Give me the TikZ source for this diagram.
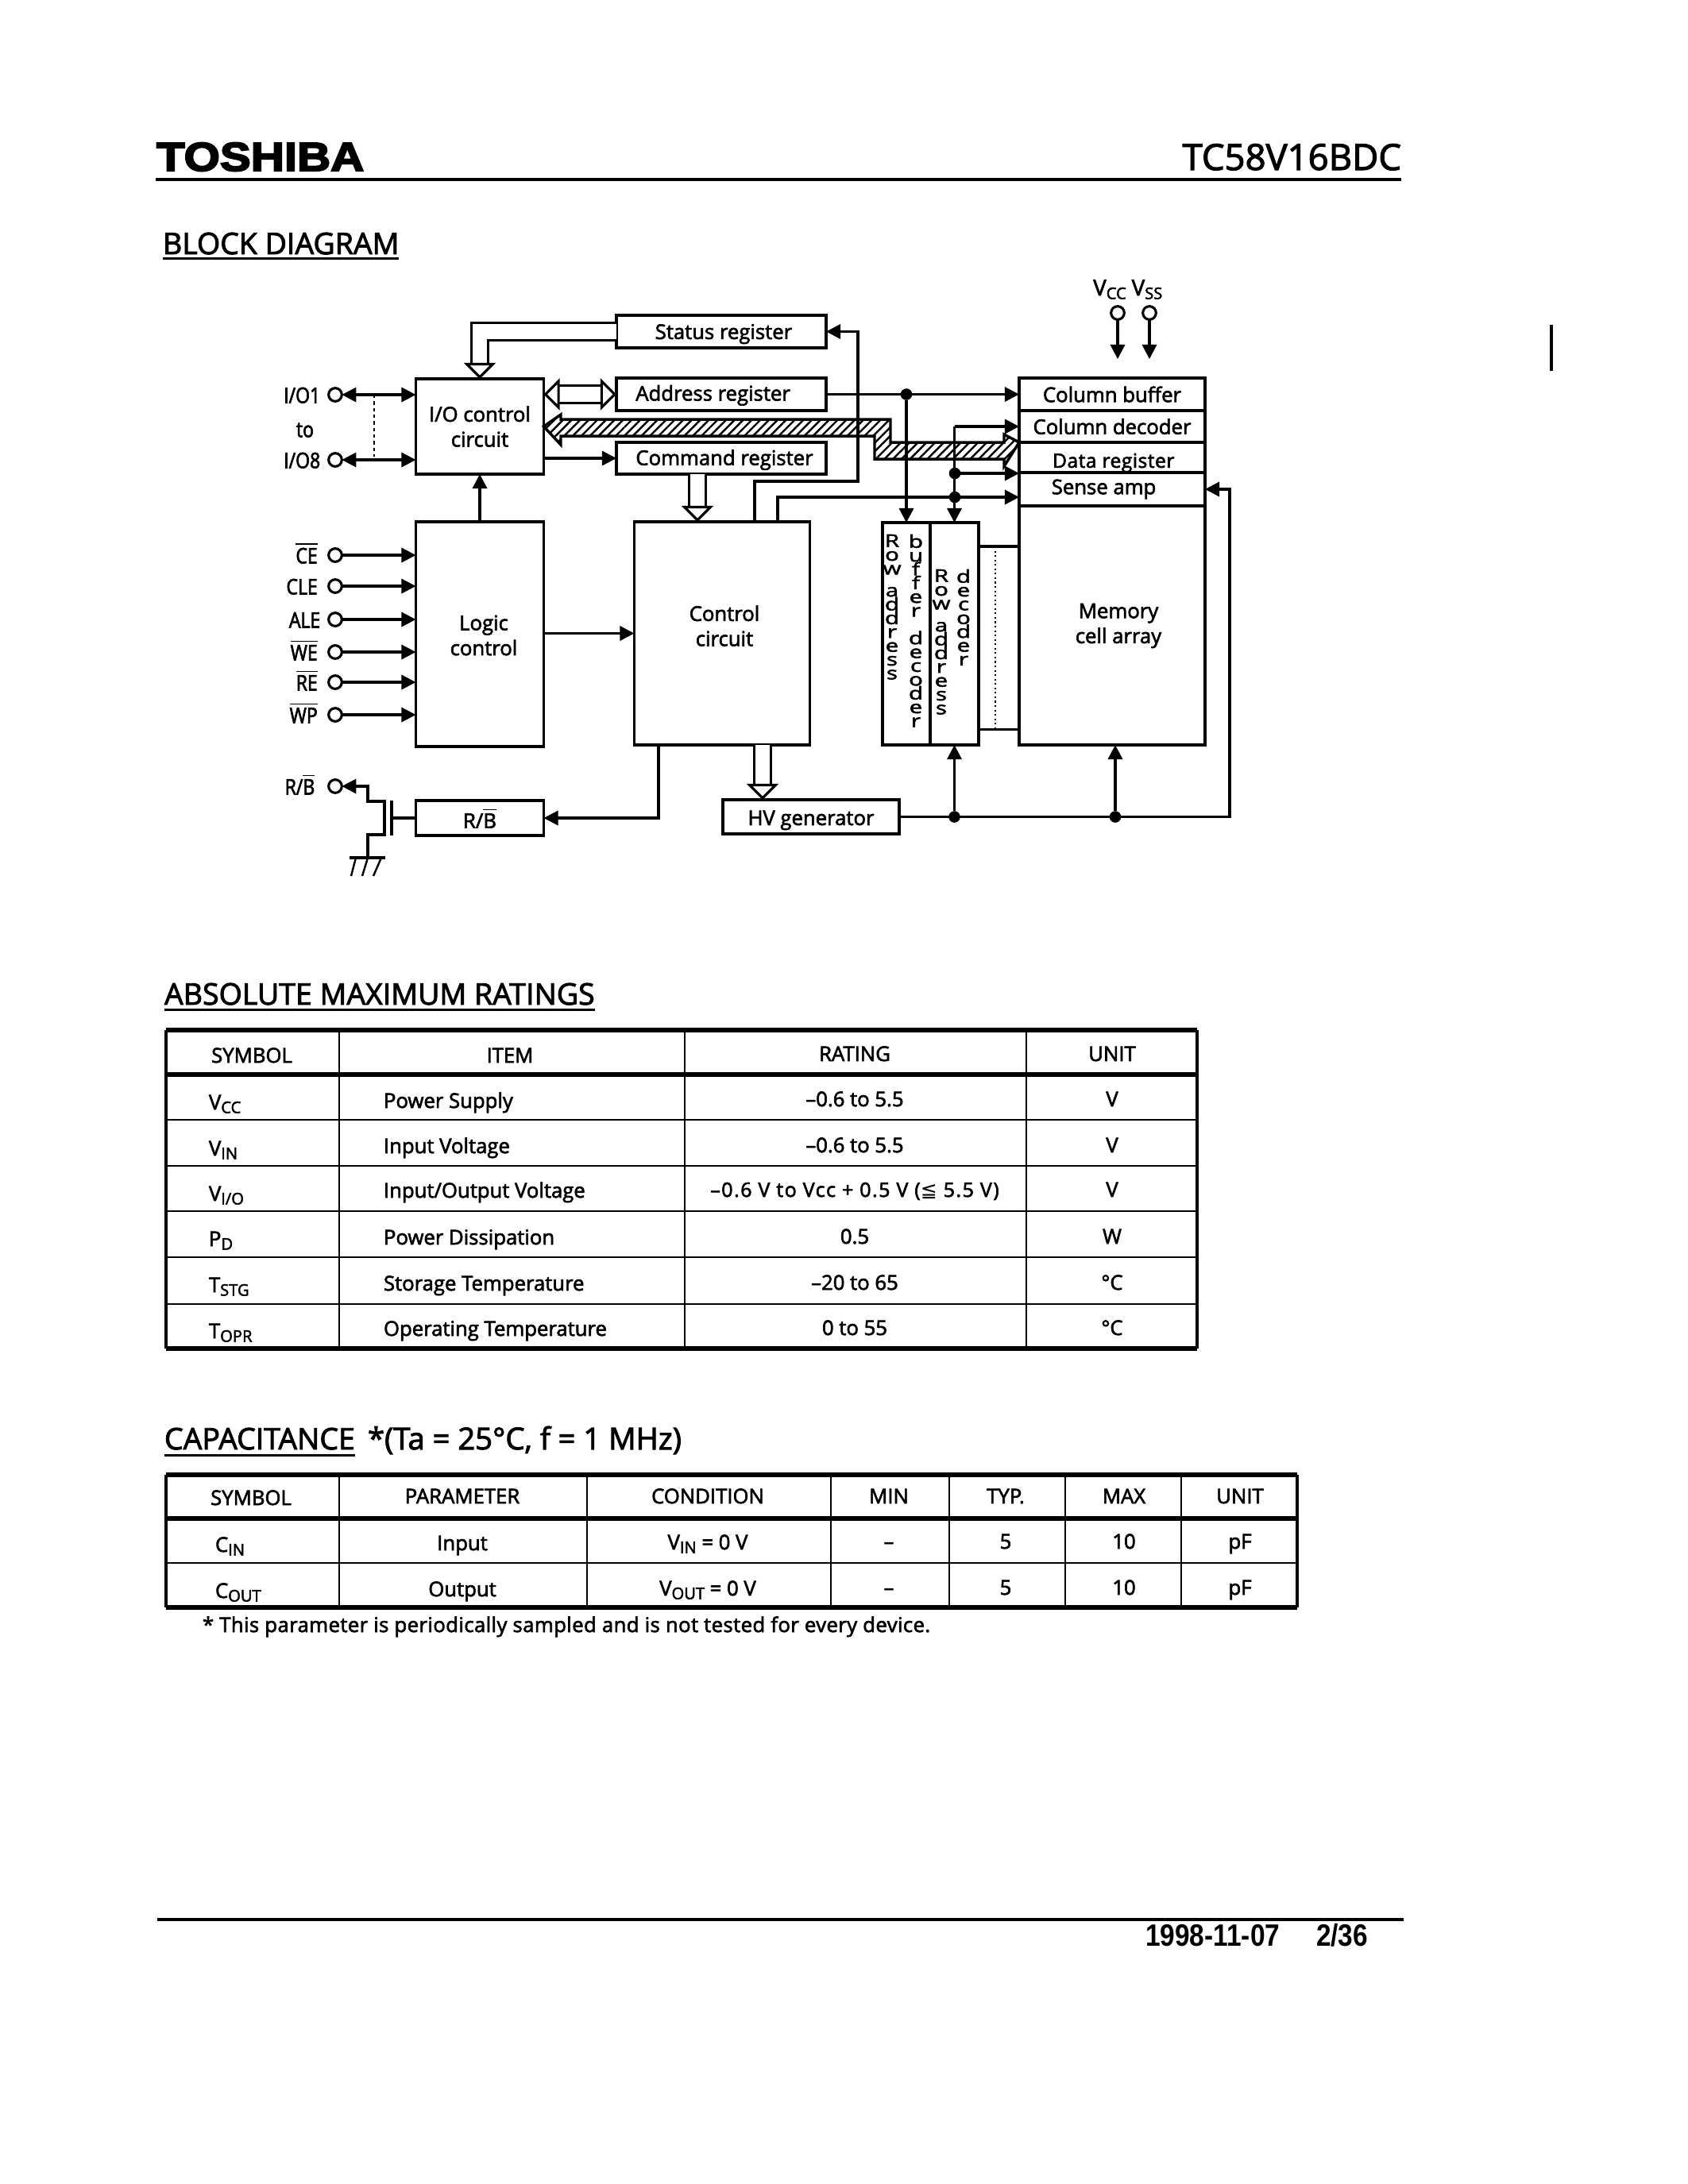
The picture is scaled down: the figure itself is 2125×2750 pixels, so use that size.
\documentclass[tikz,border=0pt]{standalone}
\usepackage{fontspec}
\setmainfont{Open Sans}[FakeBold=2.5]
\newfontfamily\narrowfont{Open Sans}[FakeBold=2.5,FakeStretch=0.85]
\newfontfamily\stackfamily{Open Sans}[FakeBold=2.5,FakeStretch=1.35]
\newfontfamily\logofont{Liberation Sans Bold}[FakeBold=4,FakeStretch=1.15]
\newfontfamily\datefont{Liberation Sans Bold}[FakeStretch=0.86]
\newfontfamily\symfont{DejaVu Sans}
\usetikzlibrary{arrows.meta,positioning,patterns.meta}
\newcommand\px{0.288pt}
\newcommand\ovl[1]{\ensuremath{\overline{\mbox{#1}}}}
\newcommand\lowtxt[1]{\raisebox{-1.3pt}{\fontsize{5.8}{6}\selectfont #1}}
\newcommand\droptxt[2]{\raisebox{-#1}[0pt][0pt]{#2}}
\newcommand\labfont{\fontsize{7.4}{9.1}\selectfont}
\newcommand\stackfont{\stackfamily\fontsize{6.3}{5}\selectfont\lineskiplimit=-20pt\relax}

\begin{document}
\begin{tikzpicture}
[x=0.288pt, y=-0.288pt, font=\labfont, >={Triangle[length=5.2pt,width=5.2pt]},
% STYLES
every node/.style={inner sep=0pt, outer sep=0pt},
% The block style is used to draw the boxes of the diagram
block/.style={rectangle, draw, line width=1pt, align=center},
% The pin style is used to draw the outer terminals
pin/.style={circle, draw, line width=0.9pt, fill=white, minimum size=4.8pt},
pinlabel/.style={font=\narrowfont\fontsize{7.8}{9}\selectfont, text height=6pt, text depth=0pt},
dot/.style={circle, fill=black, minimum size=4.2pt},
stacked/.style={anchor=north, align=center, font=\stackfont},
wire/.style={line width=0.95pt},
% The hollow style is used to draw the wide white arrows
hollow/.style={double, double distance=5.2pt, line width=0.9pt},
hollowtip/.style={-{Triangle[open,length=5.8pt,width=11.5pt,line width=0.9pt,fill=white]}},
heading/.style={anchor=base west, font=\fontsize{10.8}{13}\selectfont},
headrule/.style={line width=0.9pt},
cell/.style={anchor=base},
cellw/.style={anchor=base west},
thickrule/.style={line width=1.5pt},
siderule/.style={line width=1.1pt},
thinrule/.style={line width=0.8pt}]

\useasboundingbox (0,0) rectangle (2125,2750);

% Page head
\node[anchor=base west, font=\logofont\fontsize{14.6}{16}\selectfont] (logo) at (197,215) {TOSHIBA};
\node[anchor=base east, font=\fontsize{13.1}{16}\selectfont] (partno) at (1764,214) {TC58V16BDC};
\draw[line width=1pt] (196,226) -- (1764,226);
\node[heading] (blockhead) at (205,320) {BLOCK DIAGRAM};
\draw[headrule] ([yshift=-1.7pt]blockhead.base west) -- ([yshift=-1.7pt]blockhead.base east);
\draw[line width=1.2pt] (1953,409) -- (1953,467);

% Draw blocks
\node[block, minimum width=264*\px, minimum height=41*\px] (status) at (908,417.5) {\hspace*{1.7pt}\droptxt{2.7pt}{Status register}};
\node[block, minimum width=264*\px, minimum height=41*\px] (addr) at (908,496.5) {\droptxt{2.3pt}{Address register}\hspace{6pt}};
\node[block, minimum width=264*\px, minimum height=40*\px] (command) at (908,577) {\hspace*{2.3pt}\droptxt{2.5pt}{Command register}};
\node[block, minimum width=161*\px, minimum height=120*\px] (ioctl) at (604,537) {I/O control\\circuit};
\node[block, minimum width=161*\px, minimum height=283*\px] (logic) at (604,798.5) {};
\node[block, minimum width=221*\px, minimum height=281*\px] (control) at (909,797.5) {};
\node[block, minimum width=222*\px, minimum height=43*\px] (hv) at (1021,1028.5) {\droptxt{3pt}{HV generator}};
\node[block, minimum width=161*\px, minimum height=44*\px] (rb) at (604,1030) {R/\ovl{B}};
\node[block, minimum width=234*\px, minimum height=41*\px] (colbuf) at (1400,496.5) {Column buffer};
\node[block, minimum width=234*\px, minimum height=40*\px, below=0pt of colbuf] (coldec) {Column decoder};
\node[block, minimum width=234*\px, minimum height=38*\px, below=0pt of coldec] (datareg) {\hspace*{1pt}\droptxt{3.7pt}{\fontsize{7.1}{8}\selectfont\addfontfeature{LetterSpace=2}Data register}};
\node[block, minimum width=234*\px, minimum height=42*\px, below=0pt of datareg] (sense) {Sense amp\hspace{6pt}};
\node[block, minimum width=234*\px, minimum height=301*\px, below=0pt of sense] (memory) {};
\node[block, minimum width=60*\px, minimum height=280*\px] (rowbuf) at (1141,798) {};
\node[block, minimum width=61*\px, minimum height=280*\px, right=0pt of rowbuf] (rowdec) {};

% Texts that sit off the middle of their blocks
\node[align=center] (logic-text) at (609,800) {Logic\\control};
\node[align=center] (control-text) at (912,788) {Control\\circuit};
\node[align=center] (memory-text) at (1408,788) {Memory\\cell array};

% Letters that run down the two row blocks
\node[stacked] (rowbuf-a) at (1123,673) {R\\o\\w\\[-2pt]~\\a\\d\\d\\r\\e\\s\\s};
\node[stacked] (rowbuf-b) at (1153,673) {b\\u\\f\\f\\e\\r\\~\\d\\e\\c\\o\\d\\e\\r};
\node[stacked] (rowdec-a) at (1185,717) {R\\o\\w\\[-2pt]~\\a\\d\\d\\r\\e\\s\\s};
\node[stacked] (rowdec-b) at (1213,717) {d\\e\\c\\o\\d\\e\\r};

% Draw outer terminals
\node[pin] (pin-io1) at (422,497) {};
\node[pin] (pin-io8) at (422,579) {};
\node[pin] (pin-ce) at (422,699) {};
\node[pin] (pin-cle) at (422,738) {};
\node[pin] (pin-ale) at (422,780) {};
\node[pin] (pin-we) at (422,821) {};
\node[pin] (pin-re) at (422,859) {};
\node[pin] (pin-wp) at (422,900) {};
\node[pin] (pin-rb) at (422,990) {};
\node[pin] (pin-vcc) at (1407,394) {};
\node[pin] (pin-vss) at (1447,394) {};
\node[pinlabel, left=3pt of pin-io1] (lab-io1) {I/O1};
\node[pinlabel] (lab-to) at (384,540) {to};
\node[pinlabel, left=3pt of pin-io8] (lab-io8) {I/O8};
\node[pinlabel, left=4pt of pin-ce] (lab-ce) {\ovl{CE}};
\node[pinlabel, left=4pt of pin-cle] (lab-cle) {CLE};
\node[pinlabel, left=3pt of pin-ale] (lab-ale) {ALE};
\node[pinlabel, left=4pt of pin-we] (lab-we) {\ovl{WE}};
\node[pinlabel, left=4pt of pin-re] (lab-re) {\ovl{RE}};
\node[pinlabel, left=4pt of pin-wp] (lab-wp) {\ovl{WP}};
\node[pinlabel, left=5pt of pin-rb] (lab-rb) {R/\ovl{B}};
\node[anchor=base, font=\fontsize{8}{9}\selectfont] (lab-vcc) at (1397,372) {V\lowtxt{CC}};
\node[anchor=base, font=\fontsize{8}{9}\selectfont] (lab-vss) at (1444,372) {V\lowtxt{SS}};

% Hatched data bus
\draw[line width=1pt, pattern={Lines[angle=45,distance=2.2pt,line width=0.7pt]}] (ioctl.east) -- (706,522) -- (706,528) -- (1121,528) -- (1121,557) -- (1264,557) -- (1264,547) -- (coldec.south west) -- (1264,587) -- (1264,578) -- (1101,578) -- (1101,549) -- (706,549) -- (706,560) -- cycle;

% Draw the junctions
\node[dot] (j-addr) at (rowbuf.north |- addr.east) {};
\node[dot] (j-data) at (1202,596) {};
\node[dot] (j-sense) at (1202,626) {};
\node[dot] (j-hvrow) at (rowdec.south |- hv.east) {};
\node[dot] (j-hvmem) at (1404,1028.5) {};
\coordinate (statusturn) at (1080,606);
\coordinate (senseturn) at (1548,1028.5);
\coordinate (iodots-a) at (471,497);
\coordinate (iodots-b) at (471,575);

% Draw the links between blocks
\draw[wire,<->] (pin-io1) -- (ioctl.west |- pin-io1);
\draw[wire,<->] (pin-io8) -- (ioctl.west |- pin-io8);
\draw[line width=0.6pt, dash pattern=on 1.2pt off 1.2pt] (iodots-a) -- (iodots-b);
\draw[wire,->] (pin-ce) -- (logic.west |- pin-ce);
\draw[wire,->] (pin-cle) -- (logic.west |- pin-cle);
\draw[wire,->] (pin-ale) -- (logic.west |- pin-ale);
\draw[wire,->] (pin-we) -- (logic.west |- pin-we);
\draw[wire,->] (pin-re) -- (logic.west |- pin-re);
\draw[wire,->] (pin-wp) -- (logic.west |- pin-wp);
\draw[wire,->] (pin-vcc) -- (pin-vcc |- 0,452);
\draw[wire,->] (pin-vss) -- (pin-vss |- 0,452);
\draw[wire,->] (logic.north) -- (ioctl.south);
\draw[wire,->] (logic.east |- control.west) -- (control.west);
\draw[wire,->] (ioctl.east |- command.west) -- (command.west);
\draw[wire,->] (addr.east) -- (colbuf.west);
\draw[wire,->] (j-addr) -- (rowbuf.north);
\draw[wire,->] (rowdec.north |- coldec.west) -- (coldec.west);
\draw[wire,->] (rowdec.north |- coldec.west) -- (rowdec.north);
\draw[wire,->] (j-data) -- (j-data -| sense.west);
\draw[wire,->] ([xshift=70*\px]control.north) |- (sense.west |- j-sense);
\draw[wire,->] ([xshift=41*\px]control.north) |- (statusturn) |- (status.east);
\draw[wire,->] (hv.east) -- (senseturn) |- (sense.east);
\draw[wire,->] (j-hvrow) -- (rowdec.south);
\draw[wire,->] (j-hvmem) -- (j-hvmem |- memory.south);
\draw[wire,->] ([xshift=-80*\px]control.south) |- (rb.east);

% Wide white arrows
\draw[hollow,hollowtip] (status.west) -| (ioctl.north);
\draw[hollow,hollowtip] ([xshift=-30*\px]command.south) -- ([xshift=-31*\px]control.north);
\draw[hollow,hollowtip] ([xshift=51*\px]control.south) -- ([xshift=-61*\px]hv.north);
\draw[hollow,{Triangle[open,length=5.8pt,width=11.5pt,line width=0.9pt,fill=white]}-{Triangle[open,length=5.8pt,width=11.5pt,line width=0.9pt,fill=white]}] (ioctl.east |- addr.west) -- (addr.west);

% Output transistor
\coordinate (gate) at (493,1030);
\coordinate (gnd) at (463,1080);
\coordinate (source) at (484,1051);
\coordinate (drain) at (484,1009);
\draw[wire] (rb.west) -- (gate);
\draw[wire] ([yshift=22*\px]gate) -- ([yshift=-22*\px]gate);
\draw[wire,->] (gnd) |- (source) -- (drain) -| (463,990) -- (pin-rb);
\draw[wire] (440,1080) -- (485,1080);
\draw[line width=0.7pt] (448,1080) -- (442,1103) (463,1080) -- (456,1103) (480,1080) -- (470,1103);
\draw[line width=0.6pt, densely dotted] (1253,688) -- (1253,918);
\draw[wire] (rowdec.east |- 0,688) -- (memory.west |- 0,688);
\draw[wire] (rowdec.east |- 0,918.5) -- (memory.west |- 0,918.5);

% ABSOLUTE MAXIMUM RATINGS
\node[heading] (ratehead) at (207,1265) {ABSOLUTE MAXIMUM RATINGS};
\draw[headrule] ([yshift=-1.9pt]ratehead.base west) -- ([yshift=-1.9pt]ratehead.base east);
\draw[thickrule] (209,1297) -- (1507,1297) (209,1353) -- (1507,1353) (209,1698) -- (1507,1698);
\draw[siderule] (209,1297) -- (209,1698) (1507,1297) -- (1507,1698);
\draw[thinrule] (209,1410) -- (1507,1410) (209,1468) -- (1507,1468) (209,1525) -- (1507,1525) (209,1583) -- (1507,1583) (209,1642) -- (1507,1642) (427,1297) -- (427,1698) (862,1297) -- (862,1698) (1292,1297) -- (1292,1698);
\node[cell] (rt-h1) at (317,1338) {SYMBOL};
\node[cell] (rt-h2) at (642,1338) {ITEM};
\node[cell] (rt-h3) at (1076,1336) {RATING};
\node[cell] (rt-h4) at (1400,1336) {UNIT};
\node[cellw] (rt-vcc) at (263,1397) {V\lowtxt{CC}};
\node[cellw] (rt-vin) at (263,1455) {V\lowtxt{IN}};
\node[cellw] (rt-vio) at (263,1512) {V\lowtxt{I/O}};
\node[cellw] (rt-pd) at (263,1569) {P\lowtxt{D}};
\node[cellw] (rt-tstg) at (263,1627) {T\lowtxt{STG}};
\node[cellw] (rt-topr) at (263,1685) {T\lowtxt{OPR}};
\node[cellw] (rt-i1) at (483,1395) {Power Supply};
\node[cellw] (rt-i2) at (483,1452) {Input Voltage};
\node[cellw] (rt-i3) at (483,1508) {Input/Output Voltage};
\node[cellw] (rt-i4) at (483,1567) {Power Dissipation};
\node[cellw] (rt-i5) at (483,1625) {Storage Temperature};
\node[cellw] (rt-i6) at (483,1682) {Operating Temperature};
\node[cell] (rt-r1) at (1076,1393) {–0.6 to 5.5};
\node[cell] (rt-r2) at (1076,1451) {–0.6 to 5.5};
\node[cell, font=\fontsize{7.2}{8}\selectfont\addfontfeature{LetterSpace=6}] (rt-r3) at (1076,1507) {–0.6 V to Vcc + 0.5 V ({\symfont ≦} 5.5 V)};
\node[cell] (rt-r4) at (1076,1566) {0.5};
\node[cell] (rt-r5) at (1076,1624) {–20 to 65};
\node[cell] (rt-r6) at (1076,1681) {0 to 55};
\node[cell] (rt-u1) at (1400,1393) {V};
\node[cell] (rt-u2) at (1400,1451) {V};
\node[cell] (rt-u3) at (1400,1507) {V};
\node[cell] (rt-u4) at (1400,1566) {W};
\node[cell] (rt-u5) at (1400,1624) {°C};
\node[cell] (rt-u6) at (1400,1681) {°C};

% CAPACITANCE
\node[heading] (caphead) at (207,1825) {CAPACITANCE};
\draw[headrule] ([yshift=-2.2pt]caphead.base west) -- ([yshift=-2.2pt]caphead.base east);
\node[heading, font=\fontsize{11}{13}\selectfont] (capcond) at (463,1825) {*(Ta = 25°C, f = 1 MHz)};
\draw[thickrule] (209,1857) -- (1633,1857) (209,1912) -- (1633,1912) (209,2024) -- (1633,2024);
\draw[siderule] (209,1857) -- (209,2024) (1633,1857) -- (1633,2024);
\draw[thinrule] (209,1968) -- (1633,1968) (427,1857) -- (427,2024) (739,1857) -- (739,2024) (1046,1857) -- (1046,2024) (1195,1857) -- (1195,2024) (1341,1857) -- (1341,2024) (1487,1857) -- (1487,2024);
\node[cell] (cp-h1) at (316,1895) {SYMBOL};
\node[cell] (cp-h2) at (582,1893) {PARAMETER};
\node[cell] (cp-h3) at (891,1893) {CONDITION};
\node[cell] (cp-h4) at (1119,1893) {MIN};
\node[cell] (cp-h5) at (1266,1893) {TYP.};
\node[cell] (cp-h6) at (1415,1893) {MAX};
\node[cell] (cp-h7) at (1561,1893) {UNIT};
\node[cellw] (cp-cin) at (271,1954) {C\lowtxt{IN}};
\node[cellw] (cp-cout) at (271,2012) {C\lowtxt{OUT}};
\node[cell] (cp-p1) at (582,1952) {Input};
\node[cell] (cp-p2) at (582,2010) {Output};
\node[cell] (cp-c1) at (891,1951) {V\lowtxt{IN} = 0 V};
\node[cell] (cp-c2) at (891,2009) {V\lowtxt{OUT} = 0 V};
\node[cell] (cp-m1) at (1119,1950) {–};
\node[cell] (cp-m2) at (1119,2008) {–};
\node[cell] (cp-t1) at (1266,1950) {5};
\node[cell] (cp-t2) at (1266,2008) {5};
\node[cell] (cp-x1) at (1415,1950) {10};
\node[cell] (cp-x2) at (1415,2008) {10};
\node[cell] (cp-u1) at (1561,1950) {pF};
\node[cell] (cp-u2) at (1561,2008) {pF};
\node[cellw, font=\labfont\addfontfeature{LetterSpace=1.6}] (capnote) at (255,2055) {* This parameter is periodically sampled and is not tested for every device.};

% Page foot
\draw[line width=1.4pt] (198,2417) -- (1767,2417);
\node[anchor=base west, font=\datefont\fontsize{11.2}{12}\selectfont] (date) at (1442,2450) {1998-11-07};
\node[anchor=base west, font=\datefont\fontsize{11.2}{12}\selectfont] (page) at (1657,2450) {2/36};
\end{tikzpicture}
\end{document}
